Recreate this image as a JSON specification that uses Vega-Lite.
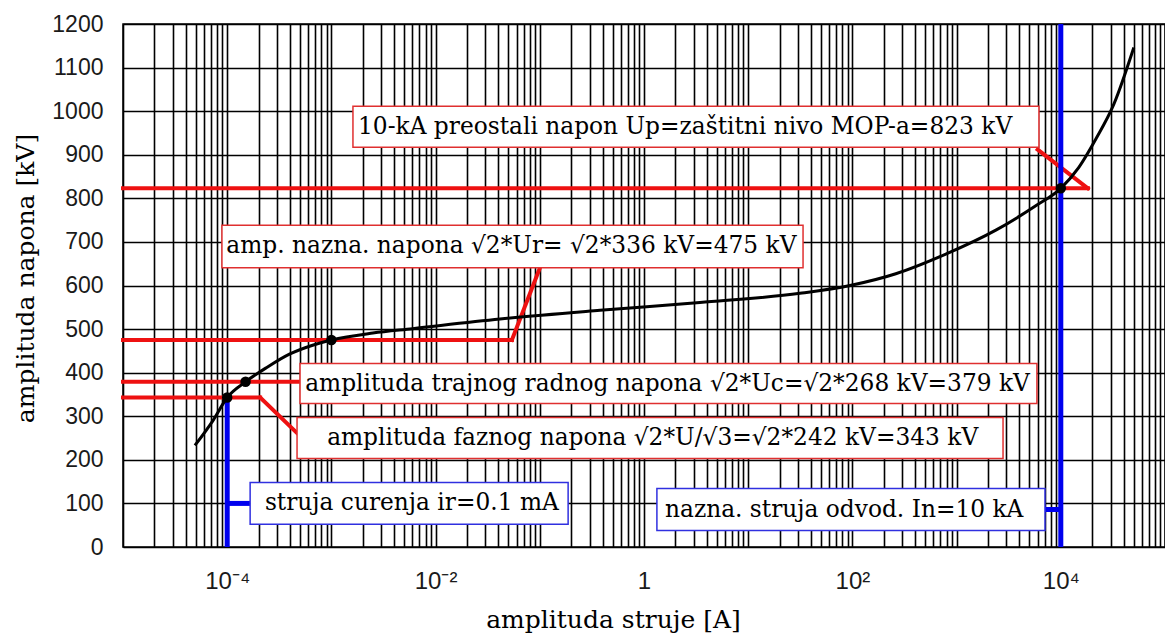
{
  "$schema": "https://vega.github.io/schema/vega-lite/v6.json",
  "width": 1042,
  "height": 523,
  "autosize": "none",
  "padding": {"left": 123, "top": 24, "right": 0, "bottom": 88},
  "background": "white",
  "config": {
    "view": {"stroke": "black", "strokeWidth": 1.5},
    "axis": {"gridColor": "black", "gridOpacity": 1, "gridWidth": 1.6, "ticks": false, "domain": false}
  },
  "datasets": {
    "curve": [
      {"a": 4.9e-5, "u": 233}, {"a": 7.3e-5, "u": 290}, {"a": 1e-4, "u": 343},
      {"a": 1.5e-4, "u": 379}, {"a": 2.4e-4, "u": 412}, {"a": 4.0e-4, "u": 443},
      {"a": 6.6e-4, "u": 463}, {"a": 1e-3, "u": 475}, {"a": 2.5e-3, "u": 491},
      {"a": 6e-3, "u": 501}, {"a": 0.0415, "u": 523}, {"a": 0.378, "u": 543},
      {"a": 3.44, "u": 561}, {"a": 31.4, "u": 582}, {"a": 94.8, "u": 600},
      {"a": 261, "u": 627}, {"a": 787, "u": 672}, {"a": 2380, "u": 727},
      {"a": 5750, "u": 783}, {"a": 10000, "u": 823}, {"a": 14900, "u": 871},
      {"a": 21700, "u": 936}, {"a": 32300, "u": 1016}, {"a": 50200, "u": 1146}
    ],
    "dots": [
      {"a": 1e-4, "u": 343}, {"a": 1.5e-4, "u": 379}, {"a": 1e-3, "u": 475}, {"a": 10000, "u": 823}
    ],
    "segs": [
      {"kind": "level", "a": 1e-5, "u": 823, "a2": 18200, "u2": 823},
      {"kind": "level", "a": 18200, "u": 823, "a2": 6000, "u2": 912},
      {"kind": "level", "a": 1e-5, "u": 475, "a2": 0.054, "u2": 475},
      {"kind": "level", "a": 0.054, "u": 475, "a2": 0.1, "u2": 640},
      {"kind": "level", "a": 1e-5, "u": 379, "a2": 5.0e-4, "u2": 379},
      {"kind": "level", "a": 1e-5, "u": 343, "a2": 2.07e-4, "u2": 343},
      {"kind": "level", "a": 2.07e-4, "u": 343, "a2": 4.7e-4, "u2": 261},
      {"kind": "current", "a": 1e-4, "u": 0, "a2": 1e-4, "u2": 343},
      {"kind": "current", "a": 1e-4, "u": 100, "a2": 1.66e-4, "u2": 100},
      {"kind": "current", "a": 10000, "u": 0, "a2": 10000, "u2": 1200},
      {"kind": "current", "a": 7050, "u": 86, "a2": 10000, "u2": 86}
    ],
    "boxes": [
      {"kind": "level", "a": 1.61e-3, "a2": 6170, "u": 917, "u2": 1011, "ta": 1.8e-3, "tu": 964, "label": "10-kA preostali napon Up=zaštitni nivo MOP-a=823 kV"},
      {"kind": "level", "a": 8.9e-5, "a2": 33.6, "u": 641, "u2": 738, "ta": 9.8e-5, "tu": 690, "label": "amp. nazna. napona √2*Ur= √2*336 kV=475 kV"},
      {"kind": "level", "a": 5.0e-4, "a2": 5900, "u": 329, "u2": 421, "ta": 5.6e-4, "tu": 375, "label": "amplituda trajnog radnog napona √2*Uc=√2*268 kV=379 kV"},
      {"kind": "level", "a": 4.68e-4, "a2": 2790, "u": 203, "u2": 297, "ta": 9.1e-4, "tu": 250, "label": "amplituda faznog napona √2*U/√3=√2*242 kV=343 kV"},
      {"kind": "current", "a": 1.66e-4, "a2": 0.187, "u": 52, "u2": 148, "ta": 2.3e-4, "tu": 100, "label": "struja curenja ir=0.1 mA"},
      {"kind": "current", "a": 1.33, "a2": 7050, "u": 38, "u2": 134, "ta": 1.59, "tu": 86, "label": "nazna. struja odvod. In=10 kA"}
    ]
  },
  "layer": [
    {
      "data": {"name": "curve"},
      "mark": {"type": "line", "color": "black", "strokeWidth": 3, "interpolate": "monotone", "opacity": 0},
      "encoding": {
        "x": {
          "field": "a", "type": "quantitative",
          "scale": {"type": "log", "domain": [1e-5, 100000], "nice": false},
          "axis": {
            "title": "amplituda struje [A]",
            "titleFont": "DejaVu Serif", "titleFontSize": 25, "titleFontWeight": "normal", "titleColor": "black",
            "titleX": 490, "titleY": 80, "titleBaseline": "alphabetic", "titleAnchor": "middle", "titleAlign": "center",
            "labelFont": "Liberation Sans", "labelFontSize": 24, "labelColor": "#1a1a1a", "labelPadding": 22,
            "labelOverlap": false, "labelBound": false, "labelFlush": false,
            "values": [1e-5, 2e-5, 3e-5, 4e-5, 5e-5, 6e-5, 7e-5, 8e-5, 9e-5,
              1e-4, 2e-4, 3e-4, 4e-4, 5e-4, 6e-4, 7e-4, 8e-4, 9e-4,
              0.001, 0.002, 0.003, 0.004, 0.005, 0.006, 0.007, 0.008, 0.009,
              0.01, 0.02, 0.03, 0.04, 0.05, 0.06, 0.07, 0.08, 0.09,
              0.1, 0.2, 0.3, 0.4, 0.5, 0.6, 0.7, 0.8, 0.9,
              1, 2, 3, 4, 5, 6, 7, 8, 9,
              10, 20, 30, 40, 50, 60, 70, 80, 90,
              100, 200, 300, 400, 500, 600, 700, 800, 900,
              1000, 2000, 3000, 4000, 5000, 6000, 7000, 8000, 9000,
              10000, 20000, 30000, 40000, 50000, 60000, 70000, 80000, 90000, 100000],
            "labelExpr": "abs(log(datum.value)/LN10 + 4) < 0.01 ? '10⁻⁴' : abs(log(datum.value)/LN10 + 2) < 0.01 ? '10⁻²' : abs(log(datum.value)/LN10) < 0.01 ? '1' : abs(log(datum.value)/LN10 - 2) < 0.01 ? '10²' : abs(log(datum.value)/LN10 - 4) < 0.01 ? '10⁴' : ''"
          }
        },
        "y": {
          "field": "u", "type": "quantitative",
          "scale": {"domain": [0, 1200], "nice": false},
          "axis": {
            "title": "amplituda napona [kV]",
            "titleFont": "DejaVu Serif", "titleFontSize": 25, "titleFontWeight": "normal", "titleColor": "black",
            "titleAngle": -90, "titleX": -98, "titleY": 254, "titleBaseline": "middle", "titleAlign": "center",
            "values": [0, 100, 200, 300, 400, 500, 600, 700, 800, 900, 1000, 1100, 1200],
            "format": "d",
            "labelFont": "Liberation Sans", "labelFontSize": 23, "labelColor": "#1a1a1a", "labelPadding": 20
          }
        }
      }
    },
    {
      "data": {"name": "segs"},
      "transform": [{"filter": "datum.kind == 'level'"}],
      "mark": {"type": "rule", "color": "#ee1111", "strokeWidth": 4, "strokeCap": "square"},
      "encoding": {
        "x": {"field": "a", "type": "quantitative"},
        "x2": {"field": "a2"},
        "y": {"field": "u", "type": "quantitative"},
        "y2": {"field": "u2"}
      }
    },
    {
      "data": {"name": "segs"},
      "transform": [{"filter": "datum.kind == 'current'"}],
      "mark": {"type": "rule", "color": "#0000ee", "strokeWidth": 5},
      "encoding": {
        "x": {"field": "a", "type": "quantitative"},
        "x2": {"field": "a2"},
        "y": {"field": "u", "type": "quantitative"},
        "y2": {"field": "u2"}
      }
    },
    {
      "data": {"name": "curve"},
      "mark": {"type": "line", "color": "black", "strokeWidth": 3, "interpolate": "monotone"},
      "encoding": {
        "x": {"field": "a", "type": "quantitative"},
        "y": {"field": "u", "type": "quantitative"}
      }
    },
    {
      "data": {"name": "dots"},
      "mark": {"type": "point", "filled": true, "color": "black", "size": 110, "opacity": 1},
      "encoding": {
        "x": {"field": "a", "type": "quantitative"},
        "y": {"field": "u", "type": "quantitative"}
      }
    },
    {
      "data": {"name": "boxes"},
      "mark": {"type": "rect", "fill": "white", "strokeWidth": 1.5},
      "encoding": {
        "x": {"field": "a", "type": "quantitative"},
        "x2": {"field": "a2"},
        "y": {"field": "u", "type": "quantitative"},
        "y2": {"field": "u2"},
        "stroke": {"field": "kind", "type": "nominal", "scale": {"domain": ["level", "current"], "range": ["#e03030", "#3030e0"]}, "legend": null}
      }
    },
    {
      "data": {"name": "boxes"},
      "mark": {"type": "text", "font": "DejaVu Serif", "fontSize": 23.3, "align": "left", "baseline": "middle", "color": "black"},
      "encoding": {
        "x": {"field": "ta", "type": "quantitative"},
        "y": {"field": "tu", "type": "quantitative"},
        "text": {"field": "label"}
      }
    }
  ]
}
